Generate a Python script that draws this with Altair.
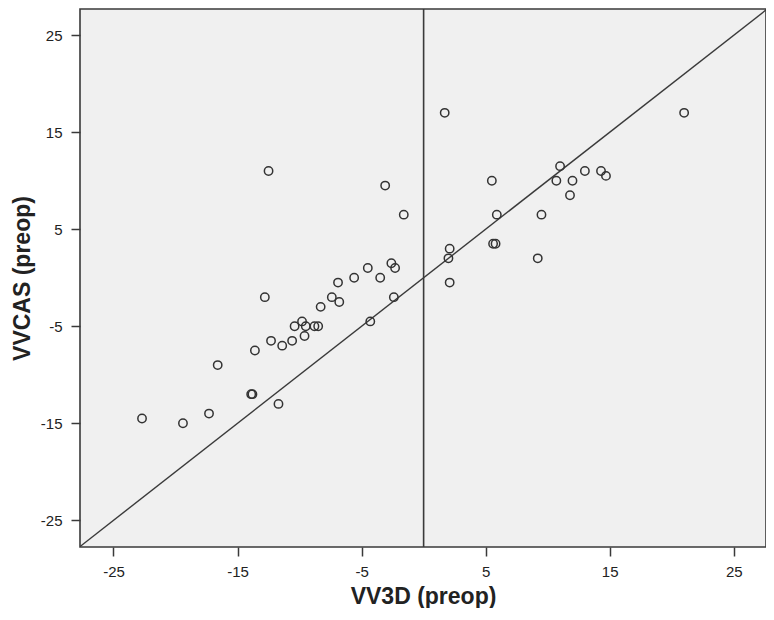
import altair as alt
import pandas as pd

# VV3D (preop) values, x axis
vv3d = [-22.7, -19.4, -17.3, -16.6, -13.9, -13.8, -11.7, -13.6, -12.3, -11.4,
        -10.6, -12.8, -12.5, -10.4, -9.8, -9.5, -9.6, -8.8, -8.5, -8.3,
        -7.4, -6.8, -6.9, -5.6, -4.5, -3.5, -2.6, -2.3, -2.4, -4.3,
        -3.1, -1.6,
        1.7, 2.1, 2.0, 2.1, 5.5, 5.9, 5.6, 5.8, 9.2, 9.5,
        10.7, 11.0, 12.0, 11.8, 13.0, 14.3, 14.7, 21.0]
# VVCAS (preop) values, y axis
vvcas = [-14.5, -15.0, -14.0, -9.0, -12.0, -12.0, -13.0, -7.5, -6.5, -7.0,
         -6.5, -2.0, 11.0, -5.0, -4.5, -5.0, -6.0, -5.0, -5.0, -3.0,
         -2.0, -2.5, -0.5, 0.0, 1.0, 0.0, 1.5, 1.0, -2.0, -4.5,
         9.5, 6.5,
         17.0, 3.0, 2.0, -0.5, 10.0, 6.5, 3.5, 3.5, 2.0, 6.5,
         10.0, 11.5, 10.0, 8.5, 11.0, 11.0, 10.5, 17.0]

tick_values = [-25, -15, -5, 5, 15, 25]
diag_ends = [-27.7, 27.7]
vline_at = [0]

pts = pd.DataFrame({"VV3D": vv3d, "VVCAS": vvcas})
diag_df = pd.DataFrame({"VV3D": diag_ends, "VVCAS": diag_ends})
vline_df = pd.DataFrame({"VV3D": vline_at})

FONT = "Liberation Sans"
INK = "#3a3a3a"

xscale = alt.Scale(domain=[-27.7, 27.6], nice=False, zero=False)
yscale = alt.Scale(domain=[-27.75, 27.7], nice=False, zero=False)

xaxis = alt.Axis(values=tick_values, title="VV3D (preop)", grid=False, domain=False,
                 labelExpr="'' + datum.value",
                 tickSize=9, tickColor=INK, tickWidth=1.5, labelPadding=8,
                 labelFont=FONT, labelFontSize=15, labelColor="#222",
                 titleFont=FONT, titleFontSize=23, titleFontWeight="bold",
                 titleColor="#222", titlePadding=6)
yaxis = alt.Axis(values=tick_values, title="VVCAS (preop)", grid=False, domain=False,
                 labelExpr="'' + datum.value",
                 tickSize=9, tickColor=INK, tickWidth=1.5, labelPadding=9,
                 labelFont=FONT, labelFontSize=15, labelColor="#222",
                 titleFont=FONT, titleFontSize=23, titleFontWeight="bold",
                 titleColor="#222", titlePadding=6)

points = alt.Chart(pts).mark_point(
    shape="circle", filled=False, size=70, stroke="#333", strokeWidth=1.5, opacity=1
).encode(
    x=alt.X("VV3D:Q", scale=xscale, axis=xaxis),
    y=alt.Y("VVCAS:Q", scale=yscale, axis=yaxis),
)

diag = alt.Chart(diag_df).mark_line(color=INK, strokeWidth=1.4, clip=True).encode(
    x=alt.X("VV3D:Q", scale=xscale, axis=xaxis),
    y=alt.Y("VVCAS:Q", scale=yscale, axis=yaxis),
)

vline = alt.Chart(vline_df).mark_rule(color=INK, strokeWidth=1.6).encode(
    x=alt.X("VV3D:Q", scale=xscale, axis=xaxis),
)

chart = alt.layer(diag, vline, points).properties(
    width=686, height=538, padding={"left": 3, "top": 0, "right": 0, "bottom": 0}
).configure_view(fill="#f0f0f0", stroke=INK, strokeWidth=1.6)

chart.save("out.html", embed_options={"renderer": "svg", "actions": False})
